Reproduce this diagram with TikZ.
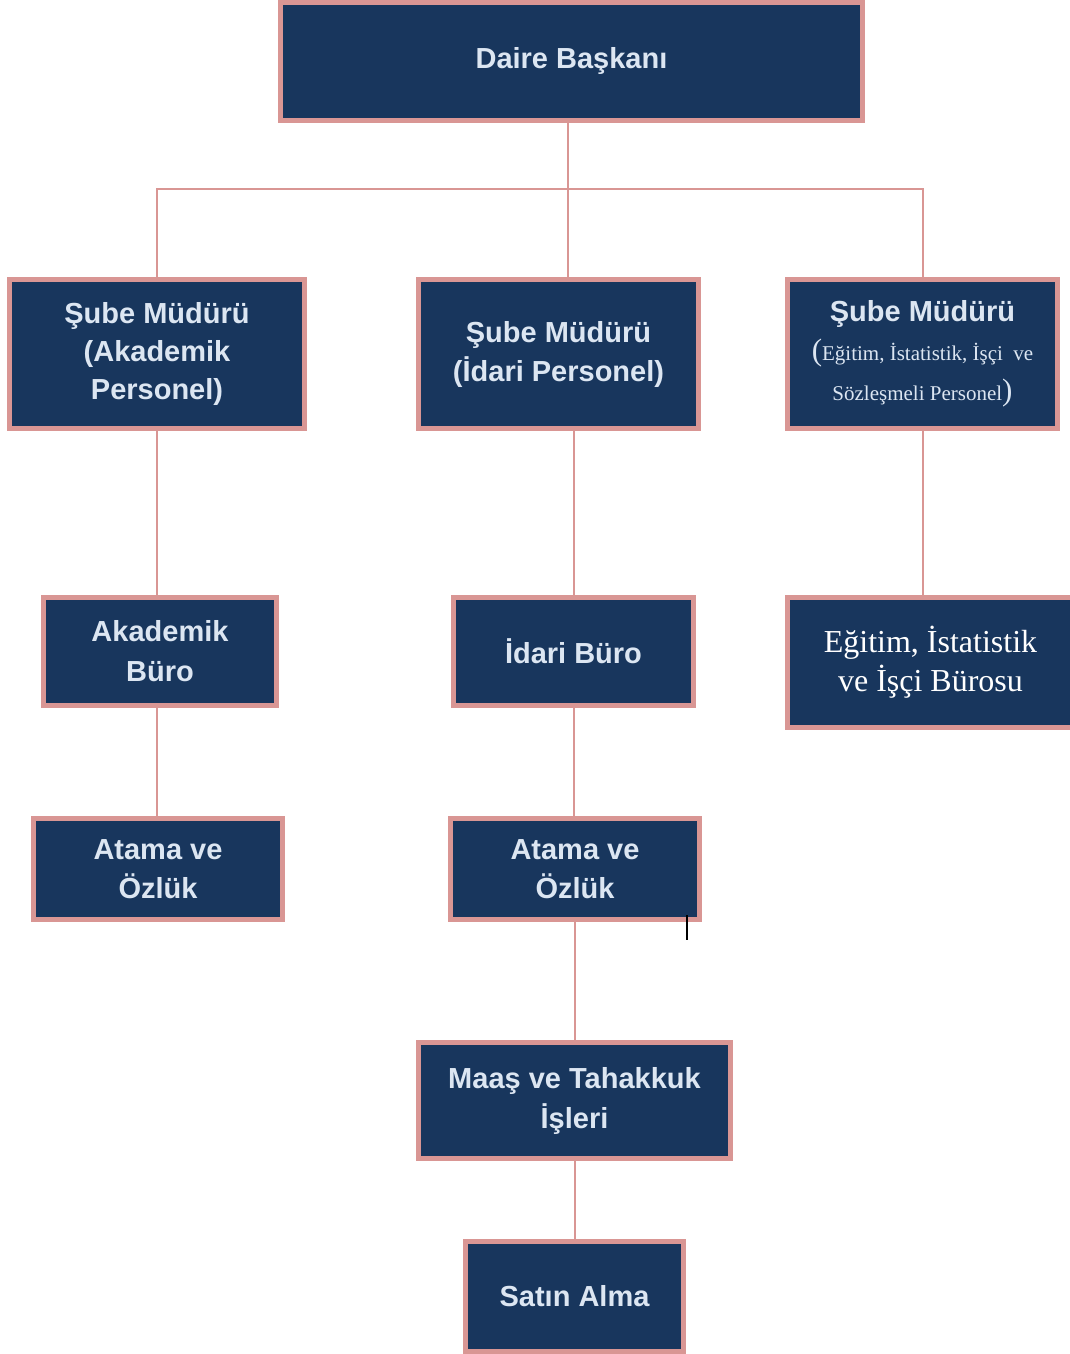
\documentclass[tikz,border=0pt]{standalone}
\usepackage{fontspec}
\setmainfont{Liberation Sans}
\newfontfamily\serifface{Liberation Serif}
\usetikzlibrary{positioning}
\usetikzlibrary{calc}

\definecolor{navy}{RGB}{24,54,93}
\definecolor{rosy}{RGB}{217,150,148}
\definecolor{paletext}{RGB}{220,230,242}

\tikzset{
  unit/.style={draw=rosy, line width=5pt, fill=navy, text=paletext, align=center,
    inner sep=0pt, font=\bfseries\fontsize{29}{39}\selectfont},
  serifunit/.style={unit, text=white, font=\serifface\fontsize{32}{39}\selectfont},
  link/.style={draw=rosy, line width=2pt}
}

\begin{document}
\begin{tikzpicture}[x=1pt,y=-1pt]
\useasboundingbox (0,0) rectangle (1070,1354);

\node[unit, minimum width=582, minimum height=118](dB) at (571.5,61.5){\raisebox{-3pt}{Daire Başkanı}};

\node[unit, minimum width=295, minimum height=149](sA) at (157,354){Şube Müdürü\\[-1pt](Akademik\\[-1pt]Personel)};
\node[unit, minimum width=280, minimum height=149](sI) at (558.5,354){Şube Müdürü\\(İdari Personel)};
\node[unit, minimum width=270, minimum height=149](sE) at (922.5,354){Şube Müdürü\\[0pt]
  {\serifface\mdseries\fontsize{31}{31}\selectfont(}{\serifface\mdseries\fontsize{21}{31}\selectfont Eğitim, İstatistik, İşçi\ \ ve}\\[1pt]
  {\serifface\mdseries\fontsize{21}{31}\selectfont Sözleşmeli Personel}{\serifface\mdseries\fontsize{31}{31}\selectfont)}};

\node[unit, minimum width=233, minimum height=108](bA) at (160,651.5){Akademik\\[1pt]Büro};
\node[unit, minimum width=240, minimum height=108](bI) at (573.5,651.5){İdari Büro};
\node[serifunit, minimum width=286, minimum height=130](bE) at (930.5,662.5){Eğitim, İstatistik\\ve İşçi Bürosu};

\node[unit, minimum width=249, minimum height=101](aA) at (158,869){Atama ve\\Özlük};
\node[unit, minimum width=249, minimum height=101](aI) at (575,869){Atama ve\\Özlük};
\node[unit, minimum width=312, minimum height=116](mI) at (574.5,1100.5){Maaş ve Tahakkuk\\[1pt]İşleri};
\node[unit, minimum width=218, minimum height=110](sAl) at (574.5,1296.5){Satın Alma};

\coordinate(bus) at (568,189);

\path[link]
(dB.south -| bus) edge (bus |- sI.north)
(bus) edge[to path={-| (\tikztotarget)}] (sA.north)
(bus) edge[to path={-| (\tikztotarget)}] (sE.north)
(sA.south) edge (sA.south |- bA.north)
(aA.north -| sA.south) edge (bA.south -| sA.south)
(bI.north |- sI.south) edge (bI.north)
(bI.south) edge (bI.south |- aI.north)
(aI.south) edge (aI.south |- mI.north)
(mI.south) edge (mI.south |- sAl.north)
(sE.south) edge (sE.south |- bE.north);

\draw[line width=1.5pt] (687,915) -- (687,940);
\end{tikzpicture}
\end{document}
